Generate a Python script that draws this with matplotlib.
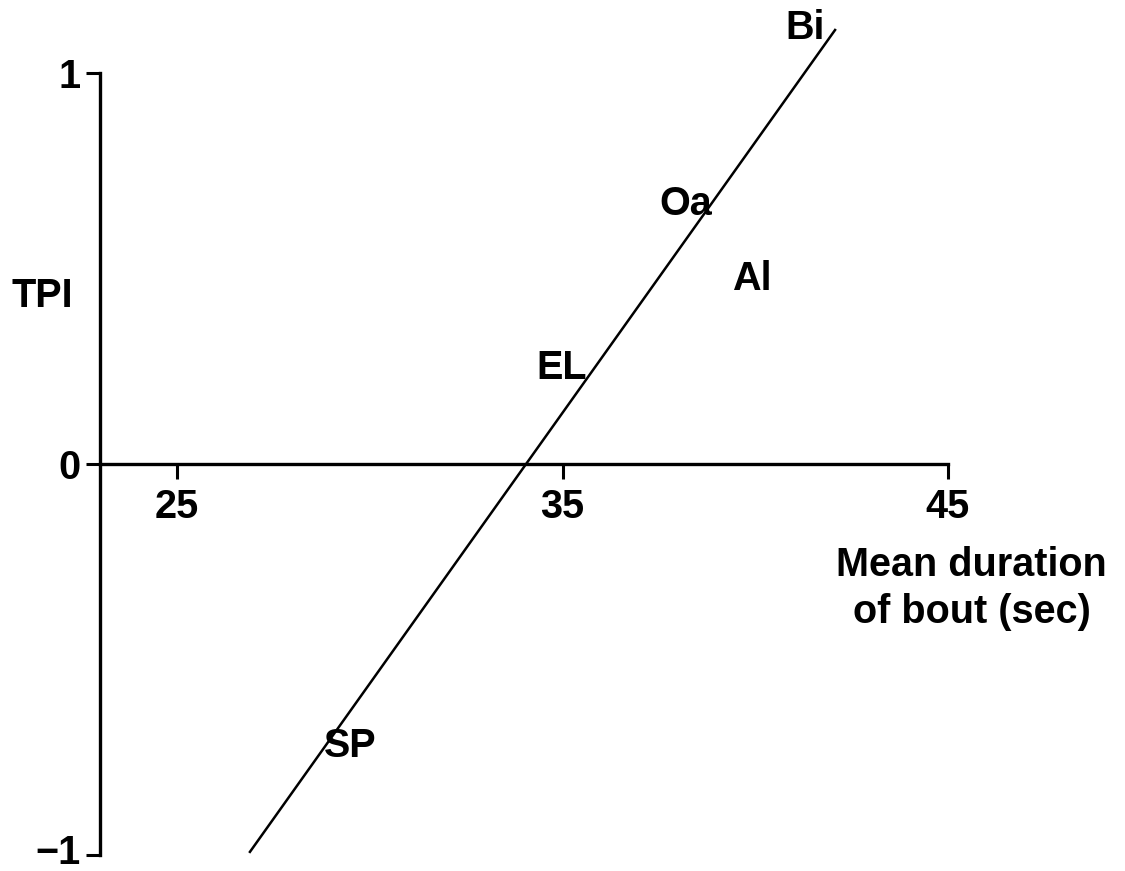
import numpy as np
import matplotlib
matplotlib.use('Agg')
import matplotlib.pyplot as plt
from matplotlib.transforms import ScaledTranslation

plt.rcParams['font.family'] = ['Liberation Sans', 'DejaVu Sans']

# species labels placed at their (duration, TPI) positions
species = ['Bi', 'Oa', 'Al', 'EL', 'SP']
duration = [41.29, 38.20, 39.91, 34.98, 29.49]
tpi = [1.115, 0.665, 0.473, 0.246, -0.721]

# fitted line end points
fit_x = [26.89, 42.07]
fit_y = [-0.992, 1.11]

x_ticks = [25, 35, 45]
y_ticks = [-1, 0, 1]
y_ticklabels = ['\u22121', '0', '1']

FS = 28.5

fig = plt.figure(figsize=(11.25, 8.71), dpi=100)
ax = fig.add_axes([100/1125, 1 - 855/871, 848/1125, 782/871])

ax.set_xlim(23, 45)
ax.set_ylim(-1, 1)

for s in ['top', 'right']:
    ax.spines[s].set_visible(False)
ax.spines['bottom'].set_position(('data', 0))
ax.spines['left'].set_linewidth(2.4)
ax.spines['bottom'].set_linewidth(2.4)

ax.set_xticks(x_ticks)
ax.set_xticklabels([str(v) for v in x_ticks], fontsize=FS, fontweight='bold')
ax.set_yticks(y_ticks)
ax.set_yticklabels(y_ticklabels, fontsize=FS, fontweight='bold')
ax.tick_params(axis='x', direction='out', length=11, width=2.2, pad=6)
ax.tick_params(axis='y', direction='out', length=10, width=2.2, pad=4)

# nudge the bottom tick label up a little so it stays inside the canvas
lab = ax.get_yticklabels()[0]
lab.set_transform(lab.get_transform() + ScaledTranslation(0, 4/72, fig.dpi_scale_trans))

ax.plot(fit_x, fit_y, color='black', lw=1.8, clip_on=False)

for name, xv, yv in zip(species, duration, tpi):
    ax.text(xv, yv, name, fontsize=FS, fontweight='bold', ha='center', va='center',
            clip_on=False)

ax.set_ylabel('TPI', fontsize=FS, fontweight='bold', rotation=0, va='center', ha='center')
ax.yaxis.set_label_coords(-0.068, 0.715)

ax.set_xlabel('Mean duration\nof bout (sec)', fontsize=FS, fontweight='bold',
              va='center', ha='center', linespacing=1.3)
ax.xaxis.set_label_coords(1.028, 0.341)

plt.savefig('out.png', dpi=100)
